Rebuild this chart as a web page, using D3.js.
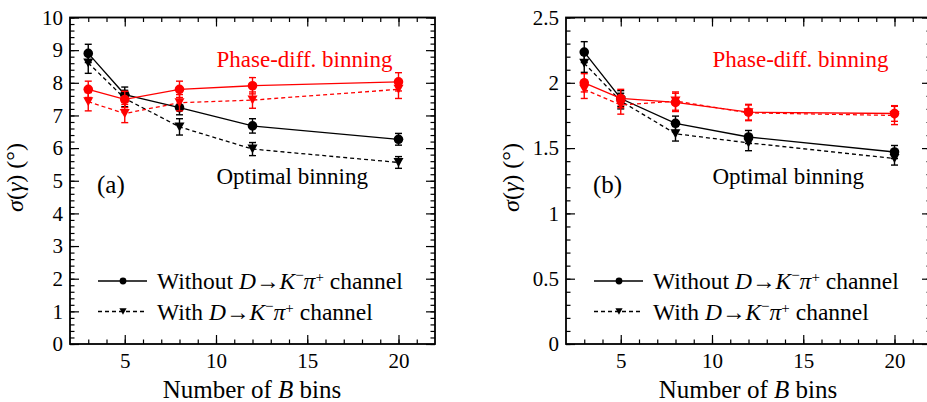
<!DOCTYPE html>
<html>
<head>
<meta charset="utf-8">
<script src="https://cdn.jsdelivr.net/npm/d3@7"></script>
<style>
  body { margin: 0; background: #fff; }
  svg { display: block; }
</style>
</head>
<body>
<svg id="chart" width="927" height="402"></svg>
<script>
// Number of B bins used in each configuration
const bins = [3, 5, 8, 12, 20];
const xTicks = [5, 10, 15, 20];

// Panel (a): sigma(gamma) in degrees
const aOptWithout = [8.90, 7.64, 7.24, 6.68, 6.27];
const aOptWithoutErr = [0.28, 0.23, 0.22, 0.22, 0.18];
const aOptWith = [8.61, 7.52, 6.65, 5.97, 5.56];
const aOptWithErr = [0.32, 0.25, 0.25, 0.20, 0.18];
const aPhaseWithout = [7.80, 7.49, 7.80, 7.91, 8.03];
const aPhaseWithoutErr = [0.25, 0.25, 0.25, 0.25, 0.28];
const aPhaseWith = [7.42, 7.06, 7.39, 7.47, 7.80];
const aPhaseWithErr = [0.28, 0.28, 0.25, 0.25, 0.28];
const aYTicks = [0, 1, 2, 3, 4, 5, 6, 7, 8, 9, 10];

// Panel (b): sigma(gamma) in degrees
const bOptWithout = [2.235, 1.88, 1.69, 1.585, 1.47];
const bOptWithoutErr = [0.08, 0.06, 0.055, 0.05, 0.05];
const bOptWith = [2.15, 1.86, 1.61, 1.54, 1.42];
const bOptWithErr = [0.07, 0.06, 0.056, 0.06, 0.05];
const bPhaseWithout = [2.00, 1.88, 1.85, 1.775, 1.765];
const bPhaseWithoutErr = [0.07, 0.07, 0.07, 0.06, 0.06];
const bPhaseWith = [1.95, 1.83, 1.86, 1.77, 1.75];
const bPhaseWithErr = [0.07, 0.07, 0.07, 0.06, 0.07];
const bYTicks = [0, 0.5, 1, 1.5, 2, 2.5];

const RED = "#ff0000", BLACK = "#000000";
const FONT = "'Liberation Serif', 'DejaVu Serif', 'Liberation Sans', sans-serif";

const svg = d3.select("#chart").style("font-family", FONT);

const panels = [
  {
    left: 70, right: 435, top: 17.5, bottom: 344,
    yMax: 10, yTicks: aYTicks, yMinor: 0.2, tag: "(a)",
    series: [
      { v: aOptWithout, e: aOptWithoutErr, color: BLACK, dash: null, sym: "circle" },
      { v: aOptWith, e: aOptWithErr, color: BLACK, dash: "4,3", sym: "tri" },
      { v: aPhaseWithout, e: aPhaseWithoutErr, color: RED, dash: null, sym: "circle" },
      { v: aPhaseWith, e: aPhaseWithErr, color: RED, dash: "4,3", sym: "tri" }
    ]
  },
  {
    left: 566, right: 931, top: 17.5, bottom: 344,
    yMax: 2.5, yTicks: bYTicks, yMinor: 0.1, tag: "(b)",
    series: [
      { v: bOptWithout, e: bOptWithoutErr, color: BLACK, dash: null, sym: "circle" },
      { v: bOptWith, e: bOptWithErr, color: BLACK, dash: "4,3", sym: "tri" },
      { v: bPhaseWithout, e: bPhaseWithoutErr, color: RED, dash: null, sym: "circle" },
      { v: bPhaseWith, e: bPhaseWithErr, color: RED, dash: "4,3", sym: "tri" }
    ]
  }
];

const triPath = "M-5,-4.5L5,-4.5L0,4.5Z";
const triSmall = "M-3.6,-3.2L3.6,-3.2L0,3.2Z";

function styleAxis(g) {
  g.select(".domain").remove();
  g.attr("font-family", null).style("font-family", FONT).attr("font-size", 21);
  g.selectAll("line").attr("stroke", "#000").attr("stroke-width", 1.2);
  g.selectAll("text").attr("fill", "#000");
}

function legendText(sel, x, y, prefix) {
  const t = sel.append("text").attr("x", x).attr("y", y)
    .attr("font-size", 23.5).attr("fill", "#000");
  t.append("tspan").text(prefix + " ");
  t.append("tspan").attr("font-style", "italic").text("D");
  t.append("tspan").text("→");
  t.append("tspan").attr("font-style", "italic").text("K");
  t.append("tspan").attr("font-size", 15).attr("dy", -9).text("−");
  t.append("tspan").attr("font-style", "italic").attr("dy", 9).text("π");
  t.append("tspan").attr("font-size", 15).attr("dy", -7).text("+");
  t.append("tspan").attr("dy", 7).text(" channel");
}

panels.forEach(p => {
  const x = d3.scaleLinear().domain([2, 22]).range([p.left, p.right]);
  const y = d3.scaleLinear().domain([0, p.yMax]).range([p.bottom, p.top]);
  const g = svg.append("g");

  const xMinor = d3.range(3, 22, 1);
  const yMinor = d3.range(0, p.yMax + 1e-9, p.yMinor);

  // minor ticks on all four sides, pointing inward
  g.append("g").attr("transform", `translate(0,${p.bottom})`)
    .call(d3.axisBottom(x).tickValues(xMinor).tickSize(-4.5).tickFormat("")).call(styleAxis);
  g.append("g").attr("transform", `translate(0,${p.top})`)
    .call(d3.axisTop(x).tickValues(xMinor).tickSize(-4.5).tickFormat("")).call(styleAxis);
  g.append("g").attr("transform", `translate(${p.left},0)`)
    .call(d3.axisLeft(y).tickValues(yMinor).tickSize(-4.5).tickFormat("")).call(styleAxis);
  g.append("g").attr("transform", `translate(${p.right},0)`)
    .call(d3.axisRight(y).tickValues(yMinor).tickSize(-4.5).tickFormat("")).call(styleAxis);

  // major ticks with labels
  g.append("g").attr("transform", `translate(0,${p.bottom})`)
    .call(d3.axisBottom(x).tickValues(xTicks).tickSize(-9).tickPadding(9).tickFormat(d3.format("d")))
    .call(styleAxis);
  g.append("g").attr("transform", `translate(0,${p.top})`)
    .call(d3.axisTop(x).tickValues(xTicks).tickSize(-9).tickFormat("")).call(styleAxis);
  g.append("g").attr("transform", `translate(${p.left},0)`)
    .call(d3.axisLeft(y).tickValues(p.yTicks).tickSize(-9).tickPadding(7).tickFormat(d => String(+d.toFixed(1))))
    .call(styleAxis);
  g.append("g").attr("transform", `translate(${p.right},0)`)
    .call(d3.axisRight(y).tickValues(p.yTicks).tickSize(-9).tickFormat("")).call(styleAxis);

  // frame
  g.append("rect")
    .attr("x", p.left).attr("y", p.top)
    .attr("width", p.right - p.left).attr("height", p.bottom - p.top)
    .attr("fill", "none").attr("stroke", "#000").attr("stroke-width", 1.8);

  // series: connecting lines, error bars, markers
  p.series.forEach(s => {
    const pts = bins.map((b, i) => ({ b, v: s.v[i], e: s.e[i] }));
    g.append("path")
      .attr("d", d3.line().x(d => x(d.b)).y(d => y(d.v))(pts))
      .attr("fill", "none").attr("stroke", s.color).attr("stroke-width", 1.3)
      .attr("stroke-dasharray", s.dash);
    const eb = g.append("g").attr("stroke", s.color).attr("stroke-width", 1.4);
    pts.forEach(d => {
      const cx = x(d.b), y0 = y(d.v - d.e), y1 = y(d.v + d.e);
      eb.append("line").attr("x1", cx).attr("x2", cx).attr("y1", y0).attr("y2", y1);
      eb.append("line").attr("x1", cx - 3.5).attr("x2", cx + 3.5).attr("y1", y0).attr("y2", y0);
      eb.append("line").attr("x1", cx - 3.5).attr("x2", cx + 3.5).attr("y1", y1).attr("y2", y1);
    });
    pts.forEach(d => {
      if (s.sym === "circle") {
        g.append("circle").attr("cx", x(d.b)).attr("cy", y(d.v)).attr("r", 4.8).attr("fill", s.color);
      } else {
        g.append("path").attr("d", triPath)
          .attr("transform", `translate(${x(d.b)},${y(d.v)})`).attr("fill", s.color);
      }
    });
  });

  // annotations
  g.append("text").attr("x", p.left + 146.5).attr("y", 67)
    .attr("font-size", 23).attr("fill", RED).text("Phase-diff. binning");
  g.append("text").attr("x", p.left + 146.5).attr("y", 184)
    .attr("font-size", 23).attr("fill", "#000").text("Optimal binning");
  g.append("text").attr("x", p.left + 27).attr("y", 193)
    .attr("font-size", 25).attr("fill", "#000").text(p.tag);

  // legend
  const lx0 = p.left + 28, lx1 = p.left + 77, lmx = p.left + 53;
  g.append("line").attr("x1", lx0).attr("x2", lx1).attr("y1", 281).attr("y2", 281)
    .attr("stroke", "#000").attr("stroke-width", 1.3);
  g.append("circle").attr("cx", lmx).attr("cy", 281).attr("r", 3.4).attr("fill", "#000");
  legendText(g, p.left + 87, 289, "Without");
  g.append("line").attr("x1", lx0).attr("x2", lx1).attr("y1", 311.5).attr("y2", 311.5)
    .attr("stroke", "#000").attr("stroke-width", 1.3).attr("stroke-dasharray", "4,3");
  g.append("path").attr("d", triSmall).attr("transform", `translate(${lmx},311.5)`).attr("fill", "#000");
  legendText(g, p.left + 87, 319.5, "With");

  // axis titles
  const xt = g.append("text").attr("x", p.left + 182).attr("y", 398)
    .attr("text-anchor", "middle").attr("font-size", 25).attr("fill", "#000");
  xt.append("tspan").text("Number of ");
  xt.append("tspan").attr("font-style", "italic").text("B");
  xt.append("tspan").text(" bins");

  const yt = g.append("text")
    .attr("transform", `translate(${p.left - 47},177.5) rotate(-90)`)
    .attr("text-anchor", "middle").attr("font-size", 24).attr("fill", "#000");
  yt.append("tspan").attr("font-style", "italic").text("σ");
  yt.append("tspan").text("(");
  yt.append("tspan").attr("font-style", "italic").text("γ");
  yt.append("tspan").text(") (°)");
});
</script>
</body>
</html>
